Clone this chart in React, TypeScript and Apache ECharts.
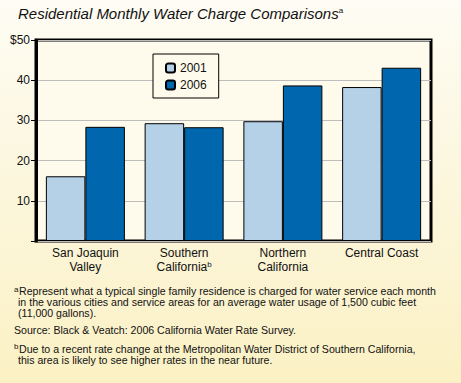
import React, { useEffect, useRef } from "react";
import * as echarts from "echarts";

const categories = ["San Joaquin\nValley", "Southern\nCalifornia", "Northern\nCalifornia", "Central Coast"];
const categorySup = ["", "b", "", ""];
const seriesNames = ["2001", "2006"];
const values2001 = [16.1, 29.3, 29.8, 38.3];
const values2006 = [28.4, 28.3, 38.7, 43.1];
const yMin = 0;
const yMax = 50;
const yInterval = 10;

const titleText = "Residential Monthly Water Charge Comparisons";
const noteA = [
  "Represent what a typical single family residence is charged for water service each month",
  "in the various cities and service areas for an average water usage of 1,500 cubic feet",
  "(11,000 gallons).",
];
const sourceText = "Source: Black & Veatch: 2006 California Water Rate Survey.";
const noteB = [
  "Due to a recent rate change at the Metropolitan Water District of Southern California,",
  "this area is likely to see higher rates in the near future.",
];

const FONT = "Liberation Sans, Arial, sans-serif";

export default function App() {
  const ref = useRef<HTMLDivElement>(null);
  useEffect(() => {
    const chart = echarts.init(ref.current!, null, { renderer: "svg" });
    const noteStyle = { fontFamily: FONT, fontSize: 10.6, fill: "#111" };
    const supRich = { s: { fontFamily: FONT, fontSize: 8, verticalAlign: "top", fill: "#111" } };
    chart.setOption({
      animation: false,
      backgroundColor: "transparent",
      grid: {
        left: 36,
        right: 30,
        top: 40,
        bottom: 142,
        show: true,
        borderColor: "#000",
        borderWidth: 3,
        backgroundColor: "#fefbec",
        containLabel: false,
      },
      legend: {
        orient: "vertical",
        left: 153,
        top: 54,
        data: seriesNames,
        backgroundColor: "#fefbec",
        borderColor: "#000",
        borderWidth: 1,
        padding: [8, 12, 7, 12],
        itemWidth: 9,
        itemHeight: 9,
        itemGap: 5,
        textStyle: { fontFamily: FONT, fontSize: 12, color: "#111" },
      },
      xAxis: {
        type: "category",
        data: categories,
        axisLine: { show: false },
        axisTick: { show: false },
        axisLabel: {
          interval: 0,
          margin: 5,
          fontFamily: FONT,
          fontSize: 12,
          color: "#111",
          lineHeight: 14,
          formatter: (v: string, i: number) =>
            categorySup[i] ? `${v}{s|${categorySup[i]}}` : v,
          rich: {
            s: { fontFamily: FONT, fontSize: 8, color: "#111", verticalAlign: "top", padding: [0, 0, 6, 0] },
          },
        },
      },
      yAxis: {
        type: "value",
        min: yMin,
        max: yMax,
        interval: yInterval,
        axisLine: { show: true, lineStyle: { color: "#000", width: 3 } },
        axisTick: { show: true, length: 5, lineStyle: { color: "#000", width: 1 } },
        axisLabel: {
          margin: 6,
          fontFamily: FONT,
          fontSize: 12,
          color: "#111",
          formatter: (v: number) => (v === 0 ? "" : v === yMax ? `$${v}` : `${v}`),
        },
        splitLine: { show: true, lineStyle: { color: "#bdbdbd", width: 1 } },
      },
      series: [
        {
          name: seriesNames[0],
          type: "bar",
          data: values2001,
          barGap: "0%",
          barCategoryGap: "20%",
          itemStyle: { color: "#b5d1e7", borderColor: "#000", borderWidth: 1 },
        },
        {
          name: seriesNames[1],
          type: "bar",
          data: values2006,
          barGap: "0%",
          barCategoryGap: "20%",
          itemStyle: { color: "#0066ae", borderColor: "#000", borderWidth: 1 },
        },
      ],
      graphic: [
        {
          type: "text",
          left: 18,
          top: 6,
          style: {
            text: `{t|${titleText}}{s|a}`,
            rich: {
              t: { fontFamily: FONT, fontSize: 15, fontStyle: "italic", fill: "#111" },
              s: { fontFamily: FONT, fontSize: 8, fill: "#111", verticalAlign: "top" },
            },
          },
        },
        {
          type: "text",
          x: 14,
          y: 285,
          style: { text: `{s|a}`, rich: supRich },
        },
        ...noteA.map((t, i) => ({
          type: "text",
          x: i === 0 ? 19 : 18,
          y: 285 + i * 11.3,
          style: { ...noteStyle, text: t },
        })),
        {
          type: "text",
          x: 14,
          y: 324,
          style: { ...noteStyle, text: sourceText },
        },
        {
          type: "text",
          x: 14,
          y: 342,
          style: { text: `{s|b}`, rich: supRich },
        },
        ...noteB.map((t, i) => ({
          type: "text",
          x: i === 0 ? 19 : 18,
          y: 343 + i * 11.5,
          style: { ...noteStyle, text: t },
        })),
      ],
    });
    return () => chart.dispose();
  }, []);
  return (
    <div
      style={{
        position: "fixed",
        left: 0,
        top: 0,
        width: 461,
        height: 383,
        background: "linear-gradient(to bottom, #fefcf4 0%, #fcf6dc 50%, #fbf1c4 100%)",
      }}
    >
      <div ref={ref} style={{ width: 461, height: 383 }} />
    </div>
  );
}
